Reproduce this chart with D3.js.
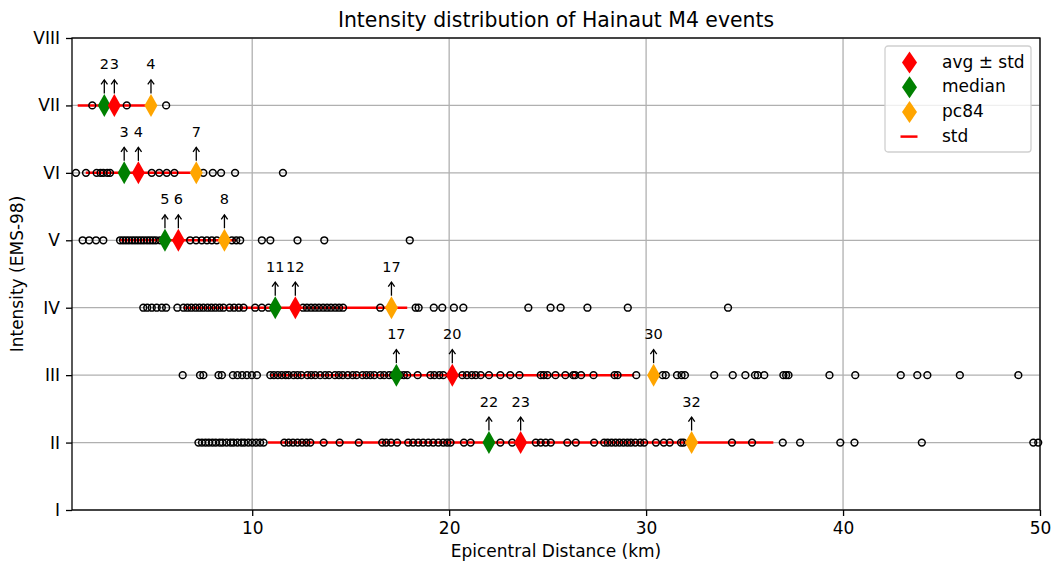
<!DOCTYPE html>
<html>
<head>
<meta charset="utf-8">
<script src="https://cdn.jsdelivr.net/npm/d3@7"></script>
<style>
  body { margin: 0; background: #fff; }
  svg text { font-family: "DejaVu Sans", sans-serif; fill: #000; }
</style>
</head>
<body>
<div id="chart"></div>
<script>
"use strict";
// intensity levels and per-level statistics (km)
const intensities = [7, 6, 5, 4, 3, 2];
const avgDist = [3.0, 4.22, 6.25, 12.19, 20.16, 23.63];
const stdDist = [1.86, 2.67, 2.97, 5.68, 9.24, 12.83];
const medianDist = [2.49, 3.5, 5.57, 11.17, 17.32, 22.02];
const pc84Dist = [4.86, 7.16, 8.59, 17.07, 30.38, 32.31];
const romanLabels = ["I", "II", "III", "IV", "V", "VI", "VII", "VIII"];
const xTicks = [10, 20, 30, 40, 50];

// observed epicentral distances per intensity
const distVII = [1.88, 2.49, 3.0, 3.63, 4.86, 5.63];
const distVI = [1.05, 1.56, 2.1, 2.3, 2.44, 2.64, 2.78, 3.5, 4.2, 4.9, 5.28, 5.66, 6.05,
  7.16, 7.52, 8.0, 8.42, 9.13, 11.56];
const distV = [1.39, 1.72, 2.07, 2.44, 3.29, 3.44, 3.59, 3.74, 3.9, 4.05, 4.2, 4.35, 4.5,
  4.66, 4.81, 4.96, 5.11, 5.32, 5.57, 6.25, 6.85, 7.15, 7.44, 7.7, 7.95, 8.2, 8.59,
  8.97, 9.19, 9.39, 10.49, 10.92, 12.3, 13.66, 18.0];
const distIV = [4.47, 4.67, 4.9, 5.15, 5.41, 5.63, 6.2, 6.51, 6.71, 6.91, 7.12, 7.32,
  7.52, 7.73, 7.93, 8.13, 8.34, 8.54, 8.85, 9.08, 9.32, 9.56, 10.15, 10.49, 10.83,
  11.17, 12.19, 12.58, 12.78, 12.99, 13.19, 13.39, 13.6, 13.8, 14.0, 14.21, 14.41,
  14.61, 16.5, 17.07, 18.3, 18.45, 19.22, 19.65, 20.24, 20.72, 24.02, 25.15, 25.66,
  27.02, 29.07, 34.16];
const distIII = [6.47, 7.35, 7.52, 8.29, 8.46, 9.02, 9.25, 9.49, 9.73, 9.98, 10.24,
  10.92, 11.1, 11.3, 11.5, 11.7, 11.85, 12.1, 12.3, 12.5, 12.8, 13.0, 13.2, 13.45,
  13.7, 13.9, 14.2, 14.4, 14.6, 14.85, 15.1, 15.3, 15.6, 15.8, 16.0, 16.2, 16.5, 16.7,
  16.95, 17.15, 17.5, 17.7, 17.87, 18.4, 19.05, 19.25, 19.5, 19.7, 20.16, 20.67, 20.9,
  21.15, 21.35, 21.6, 22.02, 22.6, 23.1, 23.57, 24.65, 24.8, 24.99, 25.4, 25.9, 26.3,
  26.4, 26.7, 27.33, 28.4, 28.55, 29.5, 30.38, 30.84, 31.0, 31.57, 31.8, 31.97, 33.46,
  34.4, 35.04, 35.53, 35.67, 36.0, 36.97, 37.11, 37.23, 39.31, 40.62, 42.93, 43.77,
  44.28, 45.93, 48.9];
const distII = [7.27, 7.45, 7.63, 7.8, 7.98, 8.15, 8.35, 8.5, 8.7, 8.9, 9.05, 9.25, 9.45,
  9.6, 9.8, 10.0, 10.2, 10.4, 10.58, 11.63, 11.85, 12.07, 12.3, 12.53, 12.75, 12.95,
  13.63, 14.44, 15.41, 16.6, 16.8, 17.05, 17.36, 17.92, 18.17, 18.43, 18.68, 18.94,
  19.19, 19.45, 19.7, 19.9, 20.07, 20.75, 21.09, 22.02, 22.6, 23.2, 23.63, 24.4, 24.65,
  24.9, 25.16, 26.0, 26.43, 27.36, 27.87, 28.05, 28.25, 28.45, 28.65, 28.85, 29.05,
  29.23, 29.45, 29.7, 29.9, 30.5, 30.9, 31.2, 31.77, 31.9, 32.31, 34.36, 35.38, 36.94,
  37.82, 39.86, 40.58, 44.0, 49.66, 49.91];
const distances = [distVII, distVI, distV, distIV, distIII, distII];

const W = 1053, H = 562;
const margin = { top: 38, right: 13, bottom: 52, left: 72 };

function diamondPath(w, h) {
  return `M0,${-h / 2}L${w / 2},0L0,${h / 2}L${-w / 2},0Z`;
}

function createChart(containerId) {
  const svg = d3.select(`#${containerId}`).append("svg")
    .attr("width", W).attr("height", H);

  const x = d3.scaleLinear().domain([0.85, 50]).range([margin.left, W - margin.right]);
  const y = d3.scaleLinear().domain([1, 8]).range([H - margin.bottom, margin.top]);

  // grid
  const grid = svg.append("g").attr("stroke", "#b0b0b0").attr("stroke-width", 1.3);
  grid.selectAll(".gx").data(xTicks).enter().append("line")
    .attr("x1", d => x(d)).attr("x2", d => x(d))
    .attr("y1", y(1)).attr("y2", y(8));
  grid.selectAll(".gy").data(d3.range(1, 9)).enter().append("line")
    .attr("y1", d => y(d)).attr("y2", d => y(d))
    .attr("x1", x.range()[0]).attr("x2", x.range()[1]);

  // axes
  const xAxis = svg.append("g")
    .attr("transform", `translate(0,${y(1)})`)
    .call(d3.axisBottom(x).tickValues(xTicks).tickSize(6).tickPadding(6).tickFormat(d3.format("d")));
  const yAxis = svg.append("g")
    .attr("transform", `translate(${x.range()[0]},0)`)
    .call(d3.axisLeft(y).tickValues(d3.range(1, 9)).tickSize(6).tickPadding(6)
      .tickFormat(d => romanLabels[d - 1]));
  [xAxis, yAxis].forEach(a => {
    a.select(".domain").remove();
    a.selectAll("text").attr("font-size", 17).attr("font-family", "DejaVu Sans");
    a.selectAll("line").attr("stroke", "#000").attr("stroke-width", 1.3);
  });

  // std lines
  svg.append("g").selectAll("line").data(intensities).enter().append("line")
    .attr("x1", (d, i) => x(avgDist[i] - stdDist[i]))
    .attr("x2", (d, i) => x(avgDist[i] + stdDist[i]))
    .attr("y1", d => y(d)).attr("y2", d => y(d))
    .attr("stroke", "red").attr("stroke-width", 2.5);

  // observations
  const pts = [];
  intensities.forEach((lev, i) => distances[i].forEach(v => pts.push({ lev, v })));
  svg.append("g").selectAll("circle").data(pts).enter().append("circle")
    .attr("cx", d => x(d.v)).attr("cy", d => y(d.lev)).attr("r", 3.4)
    .attr("fill", "none").attr("stroke", "#000").attr("stroke-width", 1.5);

  // statistic markers with arrows and labels
  const stats = [
    { vals: medianDist, color: "green" },
    { vals: avgDist, color: "red" },
    { vals: pc84Dist, color: "orange" }
  ];
  const mk = svg.append("g");
  stats.forEach(s => {
    intensities.forEach((lev, i) => {
      const cx = x(s.vals[i]), cy = y(lev);
      mk.append("path").attr("d", diamondPath(13, 23))
        .attr("transform", `translate(${cx},${cy})`).attr("fill", s.color);
      mk.append("line").attr("x1", cx).attr("x2", cx)
        .attr("y1", cy - 12).attr("y2", cy - 25.5)
        .attr("stroke", "#000").attr("stroke-width", 1.3);
      mk.append("path").attr("d", `M${cx - 3.2},${cy - 21}L${cx},${cy - 25.5}L${cx + 3.2},${cy - 21}`)
        .attr("fill", "none").attr("stroke", "#000").attr("stroke-width", 1.3);
      mk.append("text").attr("x", cx).attr("y", cy - 36)
        .attr("text-anchor", "middle").attr("font-size", 14.5)
        .text(Math.floor(s.vals[i]));
    });
  });

  // frame
  svg.append("rect")
    .attr("x", x.range()[0]).attr("y", y(8))
    .attr("width", x.range()[1] - x.range()[0]).attr("height", y(1) - y(8))
    .attr("fill", "none").attr("stroke", "#000").attr("stroke-width", 1.3);

  // titles
  svg.append("text").attr("x", (x.range()[0] + x.range()[1]) / 2).attr("y", 27)
    .attr("text-anchor", "middle").attr("font-size", 20.4)
    .text("Intensity distribution of Hainaut M4 events");
  svg.append("text").attr("x", (x.range()[0] + x.range()[1]) / 2).attr("y", 556.5)
    .attr("text-anchor", "middle").attr("font-size", 17)
    .text("Epicentral Distance (km)");
  svg.append("text")
    .attr("transform", `translate(23,${(y(1) + y(8)) / 2}) rotate(-90)`)
    .attr("text-anchor", "middle").attr("font-size", 17)
    .text("Intensity (EMS-98)");

  // legend
  const lg = svg.append("g").attr("transform", "translate(885,46)");
  lg.append("rect").attr("width", 146).attr("height", 106).attr("rx", 3)
    .attr("fill", "#fff").attr("fill-opacity", 0.8)
    .attr("stroke", "#d0d0d0").attr("stroke-width", 1.3);
  const items = [
    { label: "avg \u00b1 std", color: "red", type: "d" },
    { label: "median", color: "green", type: "d" },
    { label: "pc84", color: "orange", type: "d" },
    { label: "std", color: "red", type: "l" }
  ];
  items.forEach((it, i) => {
    const cy = 16.5 + i * 24.7;
    if (it.type === "d") {
      lg.append("path").attr("d", diamondPath(15, 22))
        .attr("transform", `translate(24.5,${cy})`).attr("fill", it.color);
    } else {
      lg.append("line").attr("x1", 15.5).attr("x2", 32.5).attr("y1", cy).attr("y2", cy)
        .attr("stroke", it.color).attr("stroke-width", 2.5);
    }
    lg.append("text").attr("x", 57).attr("y", cy + 5).attr("font-size", 17).text(it.label);
  });
}

document.addEventListener("DOMContentLoaded", () => createChart("chart"));
</script>
</body>
</html>
